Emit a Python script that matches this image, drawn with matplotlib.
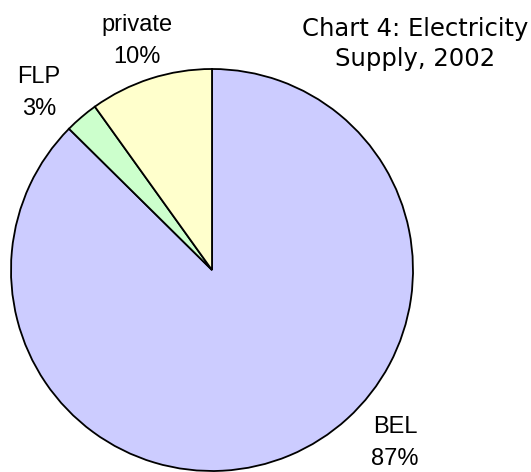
import matplotlib
matplotlib.use("Agg")
import matplotlib.pyplot as plt

# values (percent of supply)
names = ["BEL", "FLP", "private"]
shares = [87.4, 2.7, 9.9]
pct_labels = ["87%", "3%", "10%"]
colors = ["#CCCCFF", "#CCFFCC", "#FFFFCC"]

W, H = 531, 472
fig = plt.figure(figsize=(W / 100, H / 100), dpi=100)

# pie centre ~ (212, 270) px, radius ~201 px
cx, cy, r = 212, 270, 201
ax = fig.add_axes([(cx - r) / W, (H - cy - r) / H, 2 * r / W, 2 * r / H])
ax.pie(shares, colors=colors, startangle=90, counterclock=False,
       wedgeprops=dict(edgecolor="black", linewidth=1.3))
ax.set_xlim(-1, 1)
ax.set_ylim(-1, 1)
ax.set_aspect("equal")
ax.axis("off")

# label spots in pixel coords of the original
spots = {"BEL": (395, 443), "FLP": (39, 93), "private": (137, 41)}
for n, p in zip(names, pct_labels):
    px, py = spots[n]
    ax.text((px - cx) / r, (cy - py) / r, n + "\n" + p, ha="center", va="center",
            fontsize=17, family="Liberation Sans", linespacing=1.6)

fig.text(415 / W, 1 - 44 / H, "Chart 4: Electricity\nSupply, 2002", ha="center", va="center",
         fontsize=17.5, family="DejaVu Sans", linespacing=1.33)

fig.savefig("out.png", dpi=100)
